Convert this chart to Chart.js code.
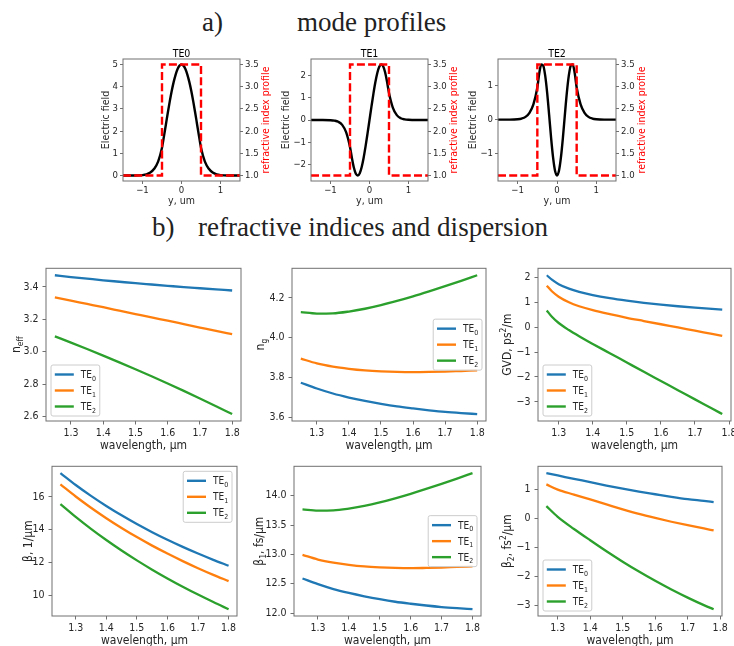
<!DOCTYPE html>
<html>
<head>
<meta charset="utf-8">
<script src="https://cdn.jsdelivr.net/npm/chart.js@4.4.1/dist/chart.umd.min.js"></script>
<style>
  body { margin:0; width:734px; height:646px; background:#fff; position:relative; overflow:hidden; }
  canvas { position:absolute; }
  .head { position:absolute; font-family:'Liberation Serif', serif; font-size:27px; line-height:27px; color:#222; white-space:nowrap; }
</style>
</head>
<body>
<div class="head" style="left:202px;top:9px">a)</div>
<div class="head" style="left:297px;top:9px">mode profiles</div>
<div class="head" style="left:152px;top:214px">b)</div>
<div class="head" style="left:198px;top:214px">refractive indices and dispersion</div>
<script>
// ---------- a) mode profiles ----------
var profileY = [-1.5,-1.2,-1.0,-0.9,-0.8,-0.7,-0.6,-0.5,-0.45,-0.4,-0.35,-0.3,-0.25,-0.2,-0.15,-0.1,-0.05,0,
                0.05,0.1,0.15,0.2,0.25,0.3,0.35,0.4,0.45,0.5,0.6,0.7,0.8,0.9,1.0,1.2,1.5];
var fieldTE0 = [0,0,0.017,0.05,0.13,0.3,0.62,1.25,1.76,2.3,2.84,3.35,3.82,4.22,4.55,4.8,4.95,5,
                4.95,4.8,4.55,4.22,3.82,3.35,2.84,2.3,1.76,1.25,0.62,0.3,0.13,0.05,0.017,0,0];
var fieldTE1 = [0,0,-0.01,-0.03,-0.08,-0.22,-0.55,-1.22,-1.72,-2.15,-2.42,-2.5,-2.4,-2.12,-1.7,-1.18,-0.6,0,
                0.6,1.18,1.7,2.12,2.4,2.5,2.42,2.15,1.72,1.22,0.55,0.22,0.08,0.03,0.01,0,0];
var fieldTE2 = [0,0,0.01,0.03,0.08,0.2,0.45,0.95,1.38,1.63,1.6,1.3,0.79,0.14,-0.54,-1.12,-1.515,-1.655,
                -1.515,-1.12,-0.54,0.14,0.79,1.3,1.6,1.63,1.38,0.95,0.45,0.2,0.08,0.03,0.01,0,0];
var indexY = [-1.5,-0.5,-0.5,0.5,0.5,1.5];
var indexN = [1,1,3.5,3.5,1,1];

var profileXTicks = [-1,0,1];
var te0Ticks = [0,1,2,3,4,5];
var te1Ticks = [-2,-1,0,1,2];
var te2Ticks = [-1,0,1];
var indexTicks = [1.0,1.5,2.0,2.5,3.0,3.5];

// ---------- b) refractive indices and dispersion ----------
var modeNames = ['TE0','TE1','TE2'];
var wl = [1.25,1.30,1.35,1.40,1.45,1.50,1.55,1.60,1.65,1.70,1.75,1.80];
var neffTE0 = [3.471,3.460,3.450,3.440,3.431,3.422,3.414,3.406,3.398,3.391,3.384,3.377];
var neffTE1 = [3.334,3.314,3.294,3.274,3.253,3.232,3.211,3.191,3.170,3.149,3.128,3.108];
var neffTE2 = [3.095,3.0565,3.017,2.9765,2.935,2.8925,2.849,2.8045,2.759,2.7125,2.665,2.6165];
var ngTE0 = [3.774,3.745,3.720,3.700,3.683,3.668,3.655,3.645,3.636,3.628,3.622,3.617];
var ngTE1 = [3.895,3.871,3.855,3.844,3.836,3.831,3.828,3.827,3.828,3.830,3.833,3.836];
var ngTE2 = [4.128,4.121,4.122,4.131,4.145,4.163,4.184,4.207,4.232,4.258,4.285,4.313];
var gvdWl = [1.265,1.28,1.30,1.33,1.36,1.40,1.45,1.50,1.55,1.60,1.65,1.70,1.75,1.78];
var gvdTE0 = [2.10,1.92,1.74,1.56,1.43,1.30,1.175,1.075,0.99,0.915,0.85,0.793,0.743,0.716];
var gvdTE1 = [1.68,1.455,1.235,1.01,0.85,0.69,0.53,0.385,0.255,0.125,-0.005,-0.135,-0.265,-0.343];
var gvdTE2 = [0.68,0.425,0.175,-0.11,-0.359,-0.667,-1.042,-1.417,-1.792,-2.162,-2.532,-2.902,-3.272,-3.494];
var betaTE0 = [17.447,16.723,16.057,15.439,14.867,14.334,13.839,13.375,12.940,12.533,12.150,11.788];
var betaTE1 = [16.758,16.017,15.331,14.694,14.096,13.538,13.016,12.531,12.071,11.639,11.231,10.849];
var betaTE2 = [15.557,14.773,14.042,13.359,12.718,12.116,11.549,11.013,10.506,10.025,9.568,9.133];
var beta1TE0 = [12.589,12.492,12.408,12.342,12.285,12.235,12.192,12.158,12.128,12.102,12.082,12.065];
var beta1TE1 = [12.992,12.912,12.859,12.822,12.795,12.779,12.769,12.765,12.769,12.775,12.786,12.795];
var beta1TE2 = [13.769,13.746,13.749,13.779,13.826,13.886,13.956,14.033,14.116,14.203,14.293,14.386];
var beta2Wl = [1.265,1.30,1.35,1.40,1.45,1.50,1.55,1.60,1.65,1.70,1.75,1.78];
var beta2TE0 = [1.57,1.49,1.37,1.26,1.14,1.03,0.93,0.84,0.75,0.67,0.61,0.57];
var beta2TE1 = [1.18,1.00,0.83,0.66,0.49,0.32,0.16,0.02,-0.11,-0.23,-0.34,-0.41];
var beta2TE2 = [0.43,0.06,-0.36,-0.75,-1.13,-1.49,-1.83,-2.15,-2.45,-2.73,-2.99,-3.13];

var wlTicks = [1.3,1.4,1.5,1.6,1.7,1.8];
var neffTicks = [2.6,2.8,3.0,3.2,3.4];
var ngTicks = [3.6,3.8,4.0,4.2];
var gvdTicks = [-3,-2,-1,0,1,2];
var betaTicks = [10,12,14,16];
var beta1Ticks = [12.0,12.5,13.0,13.5,14.0];
var beta2Ticks = [-3,-2,-1,0,1];

// ---------- drawing ----------
var FONT = '"DejaVu Sans Condensed", "DejaVu Sans", sans-serif';
var SPINE = '#707070';
var TXT = '#262626';
var colors = ['#1f77b4','#ff7f0e','#2ca02c'];

// matplotlib style 5% margins
function lim(arrs) {
  var all = [].concat.apply([], arrs);
  var lo = Math.min.apply(null, all), hi = Math.max.apply(null, all);
  var p = (hi - lo) * 0.05;
  return [lo - p, hi + p];
}

function rich(ctx, parts, x, y, size, rot, color, align) {
  if (typeof parts === 'string') parts = [[parts]];
  var seg = parts.map(function (p) {
    var s = p[1] ? size * 0.7 : size;
    ctx.font = s + 'px ' + FONT;
    return { t: p[0], s: s, k: p[1], w: ctx.measureText(p[0]).width };
  });
  var total = seg.reduce(function (a, b) { return a + b.w; }, 0);
  ctx.save();
  ctx.translate(x, y);
  ctx.rotate(rot || 0);
  ctx.fillStyle = color;
  ctx.textBaseline = 'alphabetic';
  ctx.textAlign = 'left';
  var cx = align === 'left' ? 0 : -total / 2;
  seg.forEach(function (g) {
    ctx.font = g.s + 'px ' + FONT;
    var dy = g.k === 'sub' ? size * 0.25 : g.k === 'sup' ? -size * 0.42 : 0;
    ctx.fillText(g.t, cx, size * 0.36 + dy);
    cx += g.w;
  });
  ctx.restore();
  return total;
}

function subLabel(name) {
  return [[name.slice(0, -1)], [name.slice(-1), 'sub']];
}

function drawLegend(chart, a, loc) {
  var ctx = chart.ctx, fs = 10;
  var pad = 3.8, handle = 19, tpad = 7, rowH = 11.4, step = 16;
  var sets = chart.data.datasets.slice().sort(function (p, q) { return p.idx - q.idx; });
  var tw = 0;
  sets.forEach(function (d) {
    ctx.font = fs + 'px ' + FONT;
    var w = ctx.measureText(d.label.slice(0, -1)).width;
    ctx.font = (fs * 0.7) + 'px ' + FONT;
    w += ctx.measureText(d.label.slice(-1)).width;
    tw = Math.max(tw, w);
  });
  var bw = pad * 2 + handle + tpad + tw, bh = pad * 2 + rowH + step * (sets.length - 1);
  var bx, by;
  if (loc === 'lower left') { bx = a.left + 5; by = a.bottom - 5 - bh; }
  else if (loc === 'upper right') { bx = a.right - 5 - bw; by = a.top + 5; }
  else { bx = a.right - 4 - bw; by = (a.top + a.bottom) / 2 - bh / 2; }
  ctx.save();
  ctx.beginPath();
  ctx.roundRect(bx, by, bw, bh, 2);
  ctx.fillStyle = 'rgba(255,255,255,0.85)';
  ctx.fill();
  ctx.strokeStyle = '#cccccc';
  ctx.lineWidth = 1;
  ctx.stroke();
  sets.forEach(function (d, i) {
    var cy = by + pad + rowH / 2 + i * step;
    ctx.beginPath();
    ctx.moveTo(bx + pad, cy);
    ctx.lineTo(bx + pad + handle, cy);
    ctx.strokeStyle = d.borderColor;
    ctx.lineWidth = 2.4;
    ctx.stroke();
    rich(ctx, subLabel(d.label), bx + pad + handle + tpad, cy, fs, 0, TXT, 'left');
  });
  ctx.restore();
}

var decoPlugin = {
  id: 'deco',
  afterDraw: function (chart, args, o) {
    var ctx = chart.ctx, a = chart.chartArea;
    var cx = (a.left + a.right) / 2, cy = (a.top + a.bottom) / 2;
    ctx.save();
    ctx.strokeStyle = SPINE;
    ctx.lineWidth = 1;
    ctx.strokeRect(a.left, a.top, a.right - a.left, a.bottom - a.top);
    if (o.title) rich(ctx, o.title, cx, a.top - o.titleGap, o.titleSize, 0, '#000');
    rich(ctx, o.xTitle, cx, a.bottom + o.xOff, o.labelSize, 0, TXT);
    rich(ctx, o.yTitle, a.left - o.yOff, cy, o.labelSize, -Math.PI / 2, TXT);
    if (o.y2Title) rich(ctx, o.y2Title, a.right + o.y2Off, cy, o.labelSize, -Math.PI / 2, '#ff0000');
    if (o.legend) drawLegend(chart, a, o.legend);
    ctx.restore();
  }
};

function fmt(dec) {
  return function (v) { return v.toFixed(dec).replace('-', '\u2212'); };
}

function axis(range, ticks, dec, size, fs, tl, pad, extra) {
  var s = {
    type: 'linear', min: range[0], max: range[1],
    afterFit: function (sc) { if (sc.isHorizontal()) sc.height = size; else sc.width = size; },
    afterBuildTicks: function (sc) { sc.ticks = ticks.map(function (v) { return { value: v }; }); },
    ticks: { callback: fmt(dec), font: { family: FONT, size: fs }, color: TXT, padding: pad,
             maxRotation: 0, autoSkip: false },
    grid: { drawOnChartArea: false, drawTicks: true, tickLength: tl, color: SPINE },
    border: { display: false }
  };
  return Object.assign(s, extra || {});
}

function line(xs, ys, color, label, idx, extra) {
  return Object.assign({
    label: label, idx: idx,
    data: xs.map(function (x, i) { return { x: x, y: ys[i] }; }),
    borderColor: color, backgroundColor: color, borderWidth: 2.3,
    pointRadius: 0, fill: false, cubicInterpolationMode: 'monotone', order: 3 - idx
  }, extra || {});
}

function panel(rect, m, datasets, scales, deco, padRight) {
  var cv = document.createElement('canvas');
  var w = rect[2] - rect[0] + m.l + m.r, h = rect[3] - rect[1] + m.t + m.b;
  cv.width = w; cv.height = h;
  cv.style.left = (rect[0] - m.l) + 'px';
  cv.style.top = (rect[1] - m.t) + 'px';
  cv.style.width = w + 'px'; cv.style.height = h + 'px';
  document.body.appendChild(cv);
  new Chart(cv, {
    type: 'line',
    data: { datasets: datasets },
    options: {
      responsive: false, animation: false, devicePixelRatio: 1,
      layout: { padding: { top: m.t, right: padRight, left: 0, bottom: 0 } },
      plugins: { legend: { display: false }, tooltip: { enabled: false }, deco: deco },
      scales: scales
    },
    plugins: [decoPlugin]
  });
}

// top row: mode profiles
var topM = { l: 40, r: 40, t: 20, b: 30 };
var profiles = [
  { name: 'TE0', field: fieldTE0, ticks: te0Ticks, rect: [123, 59, 240, 181], yOff: 18 },
  { name: 'TE1', field: fieldTE1, ticks: te1Ticks, rect: [311, 59, 428, 181], yOff: 25.5 },
  { name: 'TE2', field: fieldTE2, ticks: te2Ticks, rect: [498, 59, 616, 181], yOff: 26 }
];
profiles.forEach(function (p) {
  panel(p.rect, topM, [
    line(indexY, indexN, '#ff0000', 'n', 0, { yAxisID: 'y2', cubicInterpolationMode: 'default', tension: 0,
         borderDash: [8, 3.2], borderWidth: 2.4, order: 0 }),
    line(profileY, p.field, '#000000', p.name, 1, { yAxisID: 'y', borderWidth: 2.4, order: 1 })
  ], {
    x: axis([-1.5, 1.5], profileXTicks, 0, topM.b, 9.5, 3, 1),
    y: axis(lim([p.field]), p.ticks, 0, topM.l, 9.5, 3, 2, { position: 'left' }),
    y2: axis(lim([indexN]), indexTicks, 1, topM.r, 9.5, 3, 2, { position: 'right' })
  }, {
    title: p.name, titleGap: 6, titleSize: 10.5, labelSize: 10.5,
    xTitle: 'y, um', xOff: 19,
    yTitle: 'Electric field', yOff: p.yOff,
    y2Title: 'refractive index profile', y2Off: 25
  }, 0);
});

// bottom rows
var botM = { l: 60, r: 14, t: 10, b: 40 };
function modeSets(xs, a0, a1, a2) {
  return [line(xs, a0, colors[0], modeNames[0], 0),
          line(xs, a1, colors[1], modeNames[1], 1),
          line(xs, a2, colors[2], modeNames[2], 2)];
}
function bottom(rect, xs, arrs, yt, dec, yTitle, yOff, loc) {
  panel(rect, botM, modeSets(xs, arrs[0], arrs[1], arrs[2]), {
    x: axis(lim([xs]), wlTicks, 1, botM.b, 10.5, 3.5, 2),
    y: axis(lim(arrs), yt, dec, botM.l, 10.5, 3.5, 4)
  }, {
    labelSize: 12, xTitle: 'wavelength, \u00b5m', xOff: 24,
    yTitle: yTitle, yOff: yOff, legend: loc
  }, botM.r);
}

bottom([46, 268, 241, 421], wl, [neffTE0, neffTE1, neffTE2], neffTicks, 1,
       [['n'], ['eff', 'sub']], 30, 'lower left');
bottom([292, 268, 486, 421], wl, [ngTE0, ngTE1, ngTE2], ngTicks, 1,
       [['n'], ['g', 'sub']], 32, 'center right');
bottom([538, 268, 731, 421], gvdWl, [gvdTE0, gvdTE1, gvdTE2], gvdTicks, 0,
       [['GVD, ps'], ['2', 'sup'], ['/m']], 31, 'lower left');
bottom([52, 466, 237, 616], wl, [betaTE0, betaTE1, betaTE2], betaTicks, 0,
       [['\u03b2, 1/\u00b5m']], 24, 'upper right');
bottom([294, 466, 481, 616], wl, [beta1TE0, beta1TE1, beta1TE2], beta1Ticks, 1,
       [['\u03b2'], ['1', 'sub'], [', fs/\u00b5m']], 35, 'center right');
bottom([538, 466, 722, 616], beta2Wl, [beta2TE0, beta2TE1, beta2TE2], beta2Ticks, 0,
       [['\u03b2'], ['2', 'sub'], [', fs'], ['2', 'sup'], ['/\u00b5m']], 31, 'lower left');
</script>
</body>
</html>
